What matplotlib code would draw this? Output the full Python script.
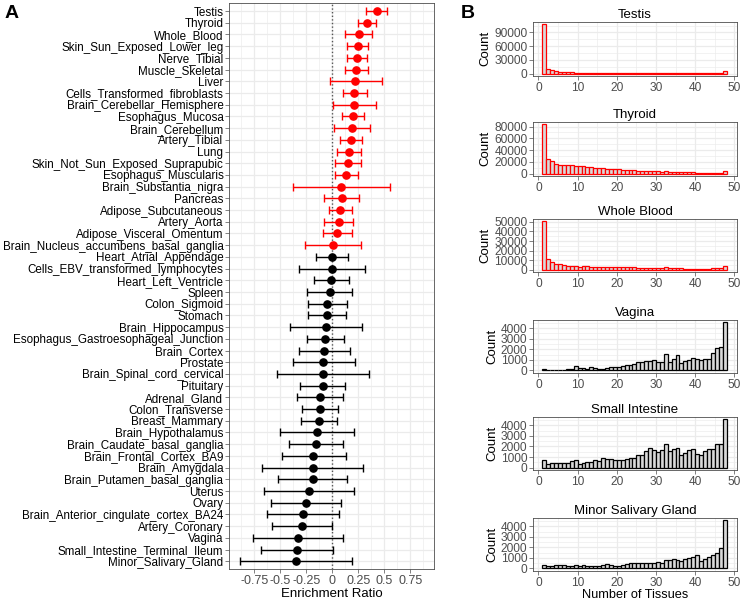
import matplotlib.pyplot as plt
import matplotlib
import numpy as np
from matplotlib.ticker import MultipleLocator, FixedLocator

matplotlib.rcParams['font.family'] = ['Liberation Sans', 'DejaVu Sans']

# ---- panel A data (top to bottom) ----
tissues = ['Testis', 'Thyroid', 'Whole_Blood', 'Skin_Sun_Exposed_Lower_leg', 'Nerve_Tibial',
           'Muscle_Skeletal', 'Liver', 'Cells_Transformed_fibroblasts', 'Brain_Cerebellar_Hemisphere',
           'Esophagus_Mucosa', 'Brain_Cerebellum', 'Artery_Tibial', 'Lung',
           'Skin_Not_Sun_Exposed_Suprapubic', 'Esophagus_Muscularis', 'Brain_Substantia_nigra',
           'Pancreas', 'Adipose_Subcutaneous', 'Artery_Aorta', 'Adipose_Visceral_Omentum',
           'Brain_Nucleus_accumbens_basal_ganglia', 'Heart_Atrial_Appendage',
           'Cells_EBV_transformed_lymphocytes', 'Heart_Left_Ventricle', 'Spleen', 'Colon_Sigmoid',
           'Stomach', 'Brain_Hippocampus', 'Esophagus_Gastroesophageal_Junction', 'Brain_Cortex',
           'Prostate', 'Brain_Spinal_cord_cervical', 'Pituitary', 'Adrenal_Gland', 'Colon_Transverse',
           'Breast_Mammary', 'Brain_Hypothalamus', 'Brain_Caudate_basal_ganglia',
           'Brain_Frontal_Cortex_BA9', 'Brain_Amygdala', 'Brain_Putamen_basal_ganglia', 'Uterus',
           'Ovary', 'Brain_Anterior_cingulate_cortex_BA24', 'Artery_Coronary', 'Vagina',
           'Small_Intestine_Terminal_Ileum', 'Minor_Salivary_Gland']
ratio = [0.427, 0.337, 0.253, 0.244, 0.237, 0.228, 0.221, 0.212, 0.209, 0.196, 0.186, 0.180,
         0.160, 0.151, 0.132, 0.087, 0.090, 0.077, 0.061, 0.045, 0.003, -0.003, -0.006, -0.010,
         -0.025, -0.051, -0.054, -0.060, -0.067, -0.077, -0.087, -0.093, -0.093, -0.118, -0.122,
         -0.131, -0.147, -0.157, -0.183, -0.189, -0.189, -0.227, -0.256, -0.282, -0.295, -0.330,
         -0.340, -0.346]
ci_low = [0.320, 0.247, 0.119, 0.144, 0.144, 0.125, -0.025, 0.100, 0.007, 0.090, 0.016, 0.077,
          0.045, 0.029, 0.022, -0.380, -0.077, -0.035, -0.077, -0.093, -0.260, -0.160, -0.323,
          -0.176, -0.246, -0.230, -0.237, -0.407, -0.246, -0.317, -0.380, -0.532, -0.307, -0.337,
          -0.295, -0.304, -0.500, -0.413, -0.484, -0.673, -0.522, -0.660, -0.593, -0.628, -0.583,
          -0.763, -0.683, -0.885]
ci_high = [0.530, 0.420, 0.385, 0.346, 0.333, 0.340, 0.478, 0.333, 0.417, 0.308, 0.365, 0.289,
           0.273, 0.276, 0.250, 0.558, 0.257, 0.189, 0.199, 0.186, 0.273, 0.151, 0.311, 0.160,
           0.192, 0.138, 0.132, 0.289, 0.112, 0.167, 0.215, 0.353, 0.122, 0.106, 0.055, 0.048,
           0.209, 0.103, 0.128, 0.292, 0.138, 0.209, 0.083, 0.064, -0.006, 0.103, 0.007, 0.186]
n_enriched = 21

# ---- panel B data: counts per number of tissues (bins 1-2 ... 47-48) ----
hist_titles = ['Testis', 'Thyroid', 'Whole Blood', 'Vagina', 'Small Intestine', 'Minor Salivary Gland']
testis_counts = [108000, 10500, 7000, 4500, 3500, 3000, 2800, 2300, 2000, 1900,
                 1800, 1700, 1600, 1500, 1500, 1700, 1400, 1300, 1300, 1500,
                 1300, 1200, 1200, 1100, 1100, 1100, 1000, 1000, 1000, 1000,
                 900, 900, 900, 900, 800, 800, 800, 700, 700, 700,
                 700, 700, 600, 700, 800, 900, 4500]
thyroid_counts = [84000, 24200, 21200, 17000, 15200, 14500, 14500, 14000, 12700, 12700,
                  12100, 11000, 10300, 9100, 9700, 9100, 8500, 7900, 7300, 7300,
                  6700, 6100, 6100, 5500, 4800, 4800, 4200, 4200, 3600, 3600,
                  3000, 3600, 3000, 2400, 3000, 2400, 2000, 1800, 1800, 1600,
                  1500, 1400, 1300, 1300, 1400, 1500, 4800]
blood_counts = [50700, 11500, 8700, 6600, 5900, 5200, 4500, 4200, 3800, 3100,
                3500, 3800, 3000, 2900, 2800, 2700, 2600, 2800, 3300, 2700,
                2600, 2500, 2600, 2500, 2400, 2300, 2400, 2300, 2200, 2200,
                2300, 2600, 2000, 1900, 2000, 1500, 1200, 1200, 1100, 1100,
                1200, 1300, 1400, 1500, 1500, 1600, 4500]
vagina_counts = [100, 60, 40, 30, 40, 50, 120, 150, 400, 200,
                 250, 150, 300, 200, 100, 150, 200, 300, 300, 350,
                 400, 500, 550, 600, 800, 800, 900, 850, 950, 800,
                 800, 1550, 750, 1100, 1500, 700, 900, 1000, 1200, 1100,
                 950, 1050, 1100, 1650, 2100, 2200, 4550]
intestine_counts = [700, 340, 400, 430, 400, 430, 460, 620, 700, 370,
                    450, 550, 520, 680, 620, 900, 800, 830, 680, 680,
                    700, 800, 920, 920, 1200, 1200, 1600, 1880, 1700, 1450,
                    1630, 2190, 1570, 1750, 1850, 1230, 1420, 1630, 1720, 1260,
                    1170, 1600, 1750, 1800, 2220, 2280, 4590]
salivary_counts = [300, 190, 250, 340, 300, 280, 190, 220, 280, 220,
                   280, 190, 220, 250, 250, 280, 400, 280, 220, 250,
                   340, 440, 500, 470, 500, 500, 470, 500, 530, 560,
                   530, 810, 810, 900, 810, 650, 840, 1000, 1060, 1250,
                   720, 870, 1030, 1220, 1440, 1900, 4560]
hist_counts = [testis_counts, thyroid_counts, blood_counts,
               vagina_counts, intestine_counts, salivary_counts]
hist_colors = ['red', 'red', 'red', 'black', 'black', 'black']
hist_yticks = [[0, 30000, 60000, 90000], [0, 20000, 40000, 60000, 80000],
               [0, 10000, 20000, 30000, 40000, 50000],
               [0, 1000, 2000, 3000, 4000], [0, 1000, 2000, 3000, 4000], [0, 1000, 2000, 3000, 4000]]
bin_left = np.arange(1, 48)

W, H = 744, 599
GRID = '#EBEBEB'
BORDER = '#4D4D4D'
TICKCOL = '#4D4D4D'


def px_axes(fig, x0, y0, x1, y1):
    # pixel box (top-left origin) -> figure axes
    return fig.add_axes([x0 / W, 1 - y1 / H, (x1 - x0) / W, (y1 - y0) / H])


def style_axes(ax):
    ax.set_axisbelow(True)
    for s in ax.spines.values():
        s.set_color(BORDER)
        s.set_linewidth(0.6)
    ax.tick_params(which='major', length=2.75, width=0.5, color=TICKCOL, pad=1.5)
    ax.tick_params(which='minor', length=0)
    ax.grid(which='major', color=GRID, linewidth=0.9)
    ax.grid(which='minor', color=GRID, linewidth=0.45)


fig = plt.figure(figsize=(W / 100, H / 100), dpi=100)

# ---------------- panel A ----------------
axA = px_axes(fig, 229.3, 3.3, 434.3, 569)
style_axes(axA)
y = np.arange(len(tissues))
colors = ['red' if i < n_enriched else 'black' for i in range(len(tissues))]
for i in range(len(tissues)):
    axA.errorbar(ratio[i], y[i], xerr=[[ratio[i] - ci_low[i]], [ci_high[i] - ratio[i]]],
                 fmt='o', color=colors[i], markersize=5.2, elinewidth=1.0,
                 capsize=3, capthick=1.0, zorder=3)
axA.axvline(0, color='#555555', linestyle=(0, (1, 1.6)), linewidth=1.0, zorder=2)
axA.set_xlim(-0.99, 0.98)
axA.set_ylim(len(tissues) - 1 + 0.66, -0.66)
axA.set_yticks(y)
axA.set_yticklabels(tissues, fontsize=8.4, color='black')
axA.xaxis.set_major_locator(FixedLocator([-0.75, -0.5, -0.25, 0, 0.25, 0.5, 0.75]))
axA.xaxis.set_minor_locator(MultipleLocator(0.125))
axA.set_xticklabels(['-0.75', '-0.5', '-0.25', '0', '0.25', '0.5', '0.75'], fontsize=9, color=TICKCOL)
axA.set_xlabel('Enrichment Ratio', fontsize=9.5, labelpad=0.5)
fig.text(5 / W, 1 - 13 / H, 'A', fontsize=14, fontweight='bold', va='center', ha='left')

# ---------------- panel B ----------------
panel_rows = [(21.7, 76.0), (121.7, 176.0), (218.7, 272.3), (320.0, 372.7), (416.7, 470.0), (518.0, 570.7)]
for k, (top, bottom) in enumerate(panel_rows):
    ax = px_axes(fig, 533.3, top, 736.7, bottom)
    style_axes(ax)
    counts = hist_counts[k]
    ax.bar(bin_left, counts, width=1, align='edge', color='#D9D9D9',
           edgecolor=hist_colors[k], linewidth=0.9, zorder=3)
    ymax = max(counts)
    ax.set_ylim(-0.05 * ymax, 1.05 * ymax)
    ax.set_xlim(-1.3, 50.6)
    ax.xaxis.set_major_locator(FixedLocator([0, 10, 20, 30, 40, 50]))
    ax.xaxis.set_minor_locator(FixedLocator([5, 15, 25, 35, 45]))
    yt = hist_yticks[k]
    ax.yaxis.set_major_locator(FixedLocator(yt))
    step = yt[1] - yt[0]
    ax.yaxis.set_minor_locator(FixedLocator(np.arange(yt[0] + step / 2, yt[-1] + step, step)))
    ax.tick_params(labelsize=8.6, labelcolor=TICKCOL)
    ax.set_ylabel('Count', fontsize=9.5, labelpad=2)
    ax.set_title(hist_titles[k], fontsize=9.5, pad=3)
    if k == len(panel_rows) - 1:
        ax.set_xlabel('Number of Tissues', fontsize=9.2, labelpad=0)
fig.text(461 / W, 1 - 13 / H, 'B', fontsize=14, fontweight='bold', va='center', ha='left')

plt.savefig('out.png', dpi=100)
plt.close()
